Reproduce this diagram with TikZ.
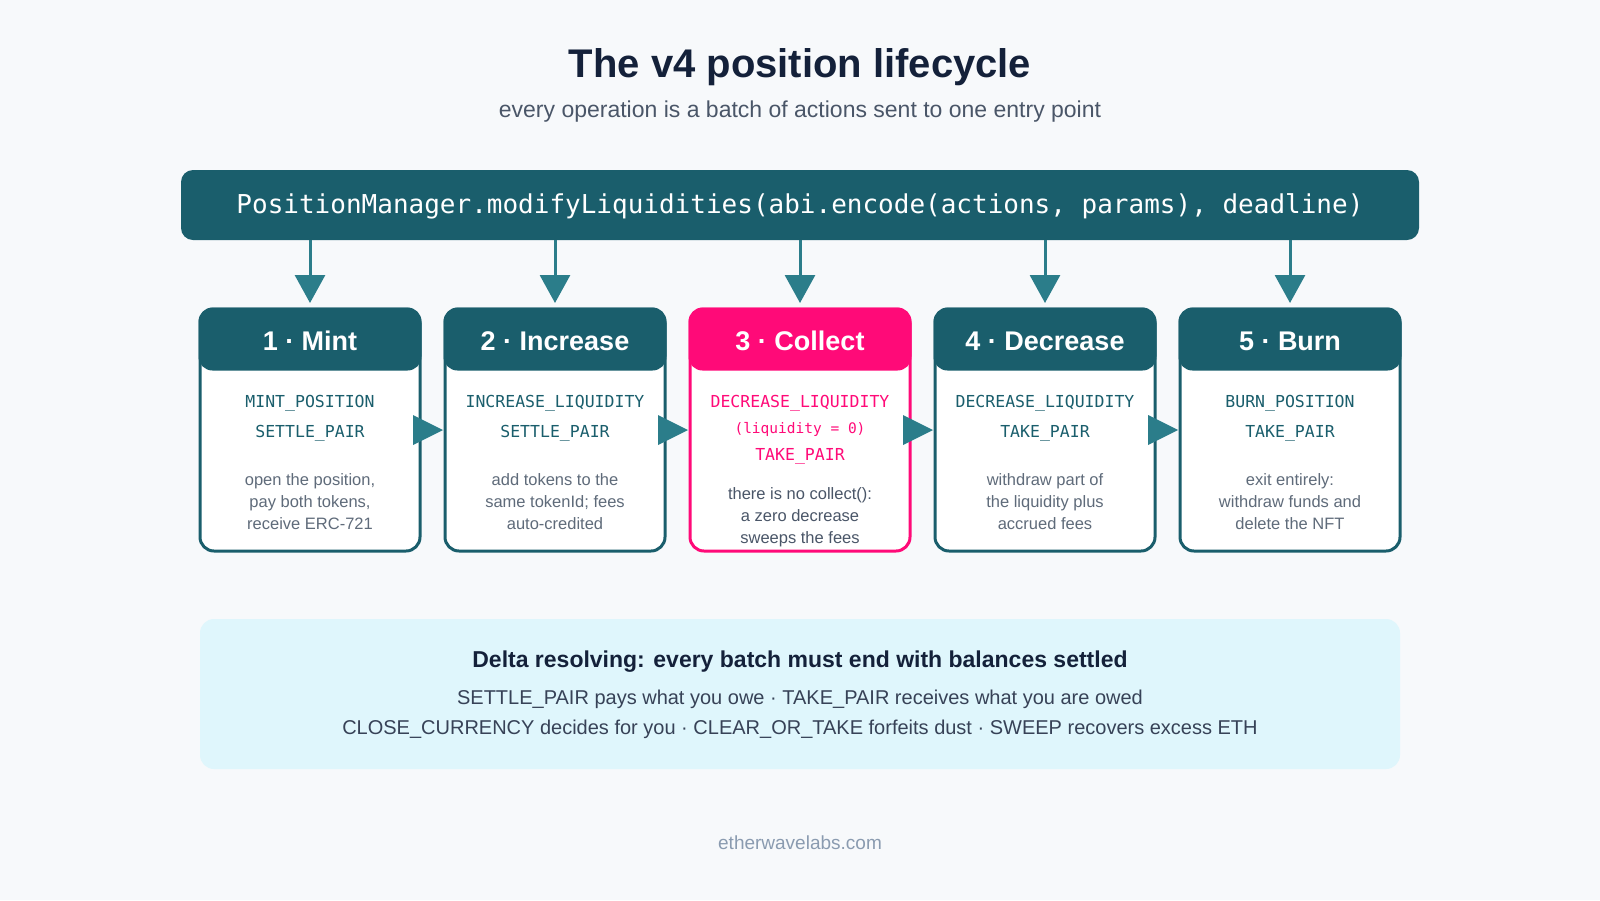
\documentclass[tikz,border=0pt]{standalone}
\usepackage{fontspec}
\setmainfont{Liberation Sans}
\setmonofont{DejaVu Sans Mono}
\usetikzlibrary{arrows.meta}
\definecolor{bg}{HTML}{F7F9FB}
\definecolor{teal}{HTML}{1A5E6C}
\definecolor{arr}{HTML}{2B7D8A}
\definecolor{pink}{HTML}{FF0A78}
\definecolor{navy}{HTML}{14213A}
\definecolor{sub}{HTML}{4A5668}
\definecolor{grey}{HTML}{5F6B7A}
\definecolor{panel}{HTML}{DFF6FC}
\definecolor{foot}{HTML}{8A9BB0}
\begin{document}
\begin{tikzpicture}[x=1pt,y=-1pt,
  card/.style={draw=#1,line width=3pt,fill=white,rounded corners=14pt},
  code/.style={font=\fontsize{16.5}{16}\ttfamily,text=teal},
  desc/.style={font=\fontsize{16.5}{16}\selectfont,text=grey},
  hdr/.style={font=\fontsize{27}{27}\selectfont\bfseries,text=white},
  down/.style={draw=arr,line width=3pt,-{Triangle[width=30pt,length=28pt]}},
  side/.style={fill=arr,draw=none}]
\fill[bg] (0,0) rectangle (1600,900);
\node[font=\fontsize{40}{40}\selectfont\bfseries,text=navy] (title) at (800,67) {The v4 position lifecycle};
\node[font=\fontsize{23}{23}\selectfont,text=sub] (subt) at (800,112) {every operation is a batch of actions sent to one entry point};
\fill[teal,rounded corners=12pt] (181,170) rectangle (1419,240);
\node[font=\fontsize{26}{26}\ttfamily,text=white] (pm) at (800,206) {PositionManager.modifyLiquidities(abi.encode(actions, params), deadline)};
\foreach \i/\c/\t/\col in {1/310/1 · Mint/teal,2/555/2 · Increase/teal,3/800/3 · Collect/pink,4/1045/4 · Decrease/teal,5/1290/5 · Burn/teal}{
  \coordinate (top\i) at (\c,240);
  \coordinate (tip\i) at (\c,303);
  \draw[down] (top\i) -- (tip\i);
  \draw[card=\col] (\c-110,309) rectangle (\c+110,551);
  \fill[\col,rounded corners=14pt] (\c-111.5,307.5) rectangle (\c+111.5,370.5);
  \node[hdr] (h\i) at (\c,341) {\t};
}
\foreach \x in {413,658,903,1148}{
  \fill[side] (\x,415) -- (\x+30,430) -- (\x,445) -- cycle;
}
\node[code] (a1) at (310,403) {MINT\_POSITION};
\node[code] (b1) at (310,433) {SETTLE\_PAIR};
\node[desc,align=center] (d1) at (310,502) {open the position,\\[6pt]pay both tokens,\\[6pt]receive ERC-721};
\node[code] (a2) at (555,403) {INCREASE\_LIQUIDITY};
\node[code] (b2) at (555,433) {SETTLE\_PAIR};
\node[desc,align=center] (d2) at (555,502) {add tokens to the\\[6pt]same tokenId; fees\\[6pt]auto-credited};
\node[code,text=pink] (a3) at (800,403) {DECREASE\_LIQUIDITY};
\node[code,text=pink,font=\fontsize{14.5}{14}\ttfamily] (b3) at (800,429) {(liquidity = 0)};
\node[code,text=pink] (c3) at (800,456) {TAKE\_PAIR};
\node[desc,align=center,text=sub] (d3) at (800,517) {there is no collect():\\[6pt]a zero decrease\\[6pt]sweeps the fees};
\node[code] (a4) at (1045,403) {DECREASE\_LIQUIDITY};
\node[code] (b4) at (1045,433) {TAKE\_PAIR};
\node[desc,align=center] (d4) at (1045,502) {withdraw part of\\[6pt]the liquidity plus\\[6pt]accrued fees};
\node[code] (a5) at (1290,403) {BURN\_POSITION};
\node[code] (b5) at (1290,433) {TAKE\_PAIR};
\node[desc,align=center] (d5) at (1290,502) {exit entirely:\\[6pt]withdraw funds and\\[6pt]delete the NFT};
\fill[panel,rounded corners=14pt] (200,619) rectangle (1400,769);
\node[font=\fontsize{23}{23}\selectfont\bfseries,text=navy] (dh) at (800,662) {Delta resolving: every batch must end with balances settled};
\node[font=\fontsize{20}{20}\selectfont,text=navy!85] (l1) at (800,699) {SETTLE\_PAIR pays what you owe · TAKE\_PAIR receives what you are owed};
\node[font=\fontsize{20}{20}\selectfont,text=navy!85] (l2) at (800,729) {CLOSE\_CURRENCY decides for you · CLEAR\_OR\_TAKE forfeits dust · SWEEP recovers excess ETH};
\node[font=\fontsize{19}{19}\selectfont,text=foot] (ft) at (800,843) {etherwavelabs.com};
\end{tikzpicture}
\end{document}
